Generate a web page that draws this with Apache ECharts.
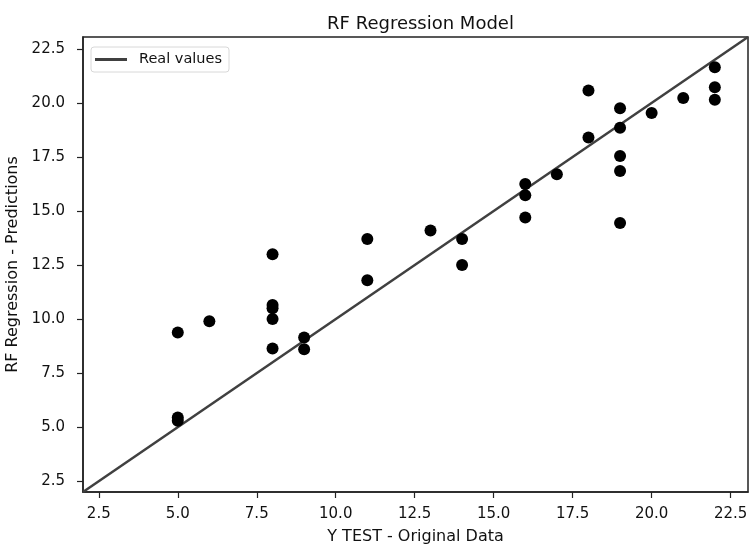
<!DOCTYPE html>
<html>
<head>
<meta charset="utf-8">
<script src="https://cdn.jsdelivr.net/npm/echarts@6/dist/echarts.min.js"></script>
<style>
html,body{margin:0;padding:0;background:#fff;}
#c{width:749px;height:546px;}
</style>
</head>
<body>
<div id="c"></div>
<script>
// Y TEST (original data) values
var yTest = [5, 5, 5, 6, 8, 8, 8, 8, 8, 9, 9, 11, 11, 13, 14, 14, 16, 16, 16, 17, 18, 18, 19, 19, 19, 19, 19, 20, 21, 22, 22, 22];
// RF regression predictions
var yPred = [9.38, 5.45, 5.3, 9.9, 13.0, 10.65, 10.5, 10.0, 8.64, 9.15, 8.6, 13.7, 11.8, 14.1, 13.7, 12.5, 16.25, 15.73, 14.7, 16.7, 20.57, 18.4, 19.75, 18.85, 17.55, 16.85, 14.45, 19.53, 20.23, 21.65, 20.72, 20.15];
// identity line ("Real values") end points
var realLine = [2.0, 23.05];
// tick labels
var xTicks = [2.5, 5.0, 7.5, 10.0, 12.5, 15.0, 17.5, 20.0, 22.5];
var yTicks = [2.5, 5.0, 7.5, 10.0, 12.5, 15.0, 17.5, 20.0, 22.5];

var font = 'DejaVu Sans';
var scatterData = yTest.map(function (v, i) { return [v, yPred[i]]; });
var lineData = realLine.map(function (v) { return [v, v]; });

function axis(name, ticks, isX) {
  return {
    type: 'value',
    min: realLine[0],
    max: realLine[1],
    name: name,
    nameLocation: 'middle',
    nameGap: isX ? 37 : 58,
    nameTextStyle: { fontFamily: font, fontSize: 16, color: '#111' },
    axisLine: { show: true, onZero: false, lineStyle: { color: '#222', width: 1.5 } },
    axisTick: { show: true, length: 6, customValues: ticks, lineStyle: { color: '#222', width: 1.2 } },
    axisLabel: {
      customValues: ticks,
      margin: isX ? 15 : 18,
      fontFamily: font, fontSize: 15, color: '#111',
      formatter: function (v) { return Number(v).toFixed(1); }
    },
    splitLine: { show: false }
  };
}

var chart = echarts.init(document.getElementById('c'), null, { renderer: 'canvas' });
chart.setOption({
  backgroundColor: '#fff',
  animation: false,
  title: {
    text: 'RF Regression Model',
    left: 415.5,
    top: 10,
    textAlign: 'center',
    textStyle: { fontFamily: font, fontSize: 18, fontWeight: 'normal', color: '#111' }
  },
  grid: {
    left: 83, right: 1, top: 37, bottom: 54,
    containLabel: false,
    outerBoundsMode: 'none',
    show: true, borderColor: '#222', borderWidth: 1.5, backgroundColor: 'transparent'
  },
  legend: {
    left: 91, top: 47,
    data: [{ name: 'Real values', icon: 'rect' }],
    itemWidth: 32, itemHeight: 3,
    padding: [5, 7, 5, 4],
    borderColor: '#d8d8d8', borderWidth: 1, borderRadius: 3,
    itemStyle: { color: '#404040' },
    textStyle: { fontFamily: font, fontSize: 14.5, color: '#111', padding: [0, 0, 0, 7] }
  },
  xAxis: axis('Y TEST - Original Data', xTicks, true),
  yAxis: axis('RF Regression - Predictions', yTicks, false),
  series: [
    {
      name: 'Real values',
      type: 'line',
      data: lineData,
      symbol: 'none',
      lineStyle: { color: '#404040', width: 2.5 },
      itemStyle: { color: '#404040' },
      z: 2
    },
    {
      name: 'points',
      type: 'scatter',
      data: scatterData,
      symbolSize: 12,
      itemStyle: { color: '#000', opacity: 1 },
      z: 3
    }
  ]
});
</script>
</body>
</html>
